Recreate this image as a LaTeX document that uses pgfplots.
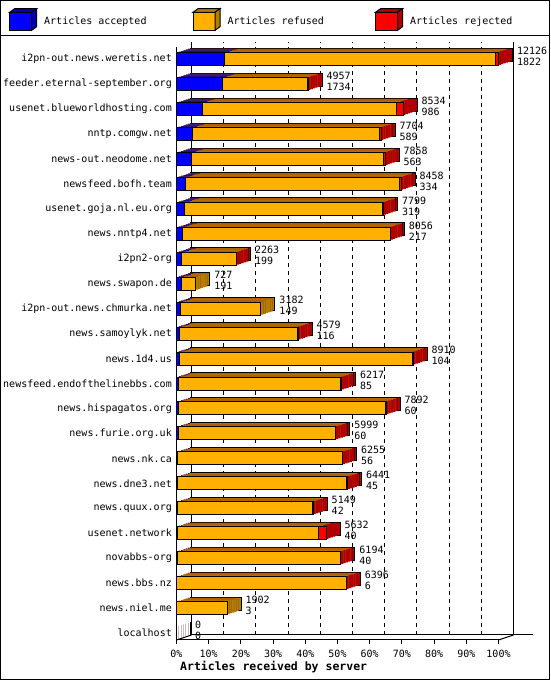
\documentclass[border=0pt]{standalone}
\usepackage{fontspec}
\setmainfont{DejaVu Sans Mono}
\usepackage{pgfplots}
\usepackage{pgfplotstable}
\pgfplotsset{compat=1.18}

\definecolor{acc}{RGB}{0,0,255}
\definecolor{accd}{RGB}{0,0,176}
\definecolor{ref}{RGB}{255,176,0}
\definecolor{refd}{RGB}{176,126,0}
\definecolor{rej}{RGB}{255,0,0}
\definecolor{rejd}{RGB}{176,0,0}

% total = all articles, acc = accepted, rej = rejected (refused = the rest)
\pgfplotstableread{
name                          total  acc   rej
i2pn-out.news.weretis.net     12126  1822  130
feeder.eternal-september.org  4957   1734  20
usenet.blueworldhosting.com   8534   986   265
nntp.comgw.net                7704   589   60
news-out.neodome.net          7858   563   60
newsfeed.bofh.team            8458   334   75
usenet.goja.nl.eu.org         7799   319   35
news.nntp4.net                8056   217   15
i2pn2-org                     2263   199   10
news.swapon.de                727    191   0
i2pn-out.news.chmurka.net     3182   149   0
news.samoylyk.net             4579   116   10
news.1d4.us                   8910   104   10
newsfeed.endofthelinebbs.com  6217   85    25
news.hispagatos.org           7892   60    10
news.furie.org.uk             5999   60    10
news.nk.ca                    6255   56    10
news.dne3.net                 6441   45    25
news.quux.org                 5149   42    10
usenet.network                5632   40    300
novabbs-org                   6194   40    10
news.bbs.nz                   6396   6     10
news.niel.me                  1902   3     0
localhost                     0      0     0
}\srv

\pgfplotsset{
  bk/.style={xbar, bar width=13pt, bar shift=0pt, draw=none, forget plot},
  fr/.style={xbar, bar width=13pt, bar shift=0pt, draw=black, line width=1pt, forget plot},
  cube/.style n args={2}{legend image code/.code={
    \draw[line width=1pt, fill=#1] (0pt,-9pt) rectangle (22pt,9pt);
    \draw[line width=1pt, fill=#2] (0pt,9pt) -- (5pt,12.6pt) -- (27pt,12.6pt) -- (22pt,9pt) -- cycle;
    \draw[line width=1pt, fill=#2] (22pt,-9pt) -- (27pt,-5.4pt) -- (27pt,12.6pt) -- (22pt,9pt) -- cycle;}},
}

\newcommand{\tot}{\thisrow{total}/121.26}
\newcommand{\refend}{(\thisrow{total}-\thisrow{rej})/121.26}
\newcommand{\refbk}{(\thisrow{rej}>0 ? \thisrow{total}-max(\thisrow{rej},90) : \thisrow{total})/121.26}
\newcommand{\accend}{\thisrow{acc}/121.26}

\begin{document}
\begin{tikzpicture}[x=1pt,y=1pt]
\path[use as bounding box] (0pt,0pt) rectangle (550pt,680pt);
\begin{axis}[
  at={(176.5pt,40pt)}, anchor=south west,
  scale only axis, width=322pt, height=593pt,
  xmin=0, xmax=100, ymin=-0.28, ymax=23.49,
  clip=false,
  axis x line*=bottom, axis y line*=left,
  axis line style={line width=1pt},
  xtick={0,10,...,100},
  xticklabels={0\%,10\%,20\%,30\%,40\%,50\%,60\%,70\%,80\%,90\%,100\%},
  ytick={0,...,23},
  yticklabels={localhost,news.niel.me,news.bbs.nz,novabbs-org,usenet.network,
    news.quux.org,news.dne3.net,news.nk.ca,news.furie.org.uk,news.hispagatos.org,
    newsfeed.endofthelinebbs.com,news.1d4.us,news.samoylyk.net,
    i2pn-out.news.chmurka.net,news.swapon.de,i2pn2-org,news.nntp4.net,
    usenet.goja.nl.eu.org,newsfeed.bofh.team,news-out.neodome.net,nntp.comgw.net,
    usenet.blueworldhosting.com,feeder.eternal-september.org,i2pn-out.news.weretis.net},
  tick label style={font=\fontsize{10}{12}\selectfont, inner sep=0pt},
  yticklabel style={xshift=-0.5pt},
  xticklabel style={yshift=-6pt},
  tick align=outside, major tick length=4pt,
  xtick style={black, line width=1pt}, ytick style={draw=none},
  xmajorgrids,
  grid style={black, line width=1pt, dash pattern=on 4pt off 4pt, xshift=15pt, yshift=5pt},
  xlabel={Articles received by server},
  xlabel style={at={(axis description cs:0,0)}, anchor=west, xshift=3.5pt, yshift=-27pt,
    inner sep=0pt, font=\fontsize{11.5}{13}\selectfont\bfseries},
  legend columns=3,
  legend cell align=left,
  legend style={draw=none, fill=none, inner sep=0pt, at={(axis description cs:-0.5202,1.0658)},
    anchor=north west, font=\fontsize{10}{12}\selectfont, nodes={inner sep=0pt},
    /tikz/column sep=0pt,
    /tikz/every odd column/.append style={column sep=7pt},
    /tikz/column 2/.append style={column sep=46pt},
    /tikz/column 4/.append style={column sep=51.2pt}},
]
% back frame
\draw[line width=1pt] ([xshift=15pt,yshift=5pt]axis description cs:0,0) -- ([xshift=15pt,yshift=5pt]axis description cs:0,1);
\draw[line width=1pt] ([xshift=15pt,yshift=5pt]axis description cs:1,0) -- ([xshift=15pt,yshift=5pt]axis description cs:1,1);
\draw[line width=1pt] ([xshift=15pt,yshift=5pt]axis description cs:0,0) -- ([xshift=34pt,yshift=5pt]axis description cs:1,0);
\draw[line width=1pt] (axis description cs:0,0) -- ([xshift=15pt,yshift=5pt]axis description cs:0,0);
\draw[line width=1pt] (axis description cs:1,0) -- ([xshift=15pt,yshift=5pt]axis description cs:1,0);

% depth of the bars: far face with outline, nearer slices without
\addplot[bk, draw=black, line width=1pt, fill=rejd, xshift=14pt, yshift=4.5pt] table[x expr=\tot, y expr=23-\coordindex]{\srv};
\addplot[bk, draw=black, line width=1pt, fill=refd, xshift=14pt, yshift=4.5pt] table[x expr=\refbk, y expr=23-\coordindex]{\srv};
\addplot[bk, draw=black, line width=1pt, fill=accd, xshift=14pt, yshift=4.5pt] table[x expr=\accend, y expr=23-\coordindex]{\srv};
\pgfplotsinvokeforeach{5,4,3,2,1}{
  \addplot[bk, fill=rejd, xshift=#1*2.3333pt, yshift=#1*0.75pt] table[x expr=\tot, y expr=23-\coordindex]{\srv};
  \addplot[bk, fill=refd, xshift=#1*2.3333pt, yshift=#1*0.75pt] table[x expr=\refbk, y expr=23-\coordindex]{\srv};
  \addplot[bk, fill=accd, xshift=#1*2.3333pt, yshift=#1*0.75pt] table[x expr=\accend, y expr=23-\coordindex]{\srv};
}

% front faces
\addplot[fr, fill=rej, point meta=explicit symbolic,
  visualization depends on={\thisrow{acc}\as\accv},
  nodes near coords={\pgfplotspointmeta\\\pgfmathprintnumber[int trunc, 1000 sep={}, assume math mode=true]{\accv}},
  every node near coord/.append style={anchor=west, xshift=18pt, yshift=3pt, inner sep=0pt,
    align=left, font=\fontsize{10}{11}\selectfont}]
  table[x expr=\tot, y expr=23-\coordindex, meta=total]{\srv};
\addplot[fr, fill=ref] table[x expr=\refend, y expr=23-\coordindex]{\srv};
\addplot[fr, fill=acc] table[x expr=\accend, y expr=23-\coordindex]{\srv};

\addlegendimage{cube={acc}{accd}}
\addlegendentry{Articles accepted}
\addlegendimage{cube={ref}{refd}}
\addlegendentry{Articles refused}
\addlegendimage{cube={rej}{rejd}}
\addlegendentry{Articles rejected}
\end{axis}
\draw[line width=1pt] (0.5pt,0.5pt) rectangle (549.5pt,679.5pt);
\draw[line width=1pt] (0pt,644pt) -- (550pt,644pt);
\end{tikzpicture}
\end{document}
